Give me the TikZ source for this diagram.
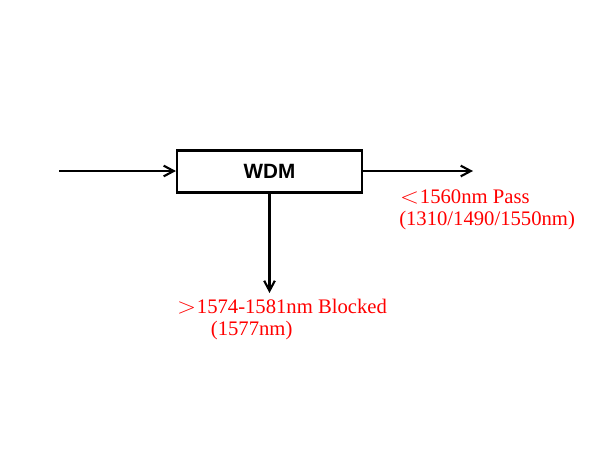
\documentclass[tikz,border=0pt]{standalone}
\usepackage{fontspec}
\setmainfont{Liberation Serif}
\newfontfamily\wdmfont{Liberation Sans}
\usetikzlibrary{arrows.meta}
\newcommand\fwsign[1]{\makebox[1em][l]{\kern.04em\scalebox{1.3}[1.15]{$#1$}}}
\tikzset{
  fiber/.style={line width=1.6pt,-{Straight Barb[length=7.5pt,width=8pt,line width=1.6pt]}},
  wdmbox/.style={draw,line width=1.6pt,minimum width=138.75pt,minimum height=31.5pt,inner sep=0pt,font=\wdmfont\bfseries\fontsize{15.5}{18}\selectfont},
  bandlabel/.style={text=red,inner sep=0pt,align=left,font=\fontsize{15.5}{16.5}\selectfont}
}
\begin{document}
\begin{tikzpicture}[x=0.75pt,y=-0.75pt]
  \useasboundingbox (0,0) rectangle (600,450);
  \node[wdmbox] (wdm) at (269.5,171.5) {WDM};
  \coordinate (in) at (59,171);
  \coordinate (pass) at (473,171);
  \coordinate (block) at (269.5,293);

  \draw[fiber] (in) -- (wdm.west |- in);
  \draw[fiber] (wdm.east |- pass) -- (pass);
  \draw[fiber] (wdm.south) -- (block);

  \node[bandlabel,anchor=base west] (passtxt) at (399,225)
    {\fwsign{<}1560nm Pass\\(1310/1490/1550nm)};
  \node[bandlabel,anchor=base west] (blocktxt) at (176,335)
    {\fwsign{>}1574-1581nm Blocked\\\hspace*{26pt}(1577nm)};
\end{tikzpicture}
\end{document}
